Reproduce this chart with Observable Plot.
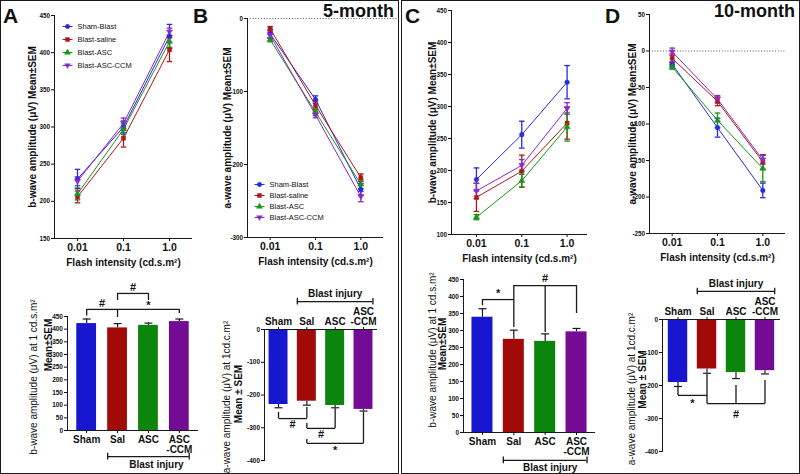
<!DOCTYPE html>
<html><head><meta charset="utf-8">
<script src="https://cdn.jsdelivr.net/npm/d3@7"></script>
<script src="https://cdn.jsdelivr.net/npm/@observablehq/plot@0.6"></script>
<style>
html,body{margin:0;padding:0;background:#fff;}
#fig{position:relative;width:800px;height:474px;overflow:hidden;background:#fff;font-family:"Liberation Sans",Arial,sans-serif;}
.box{position:absolute;top:0;height:474px;box-sizing:border-box;border:1.6px solid #1a1a1a;pointer-events:none;}
.tag{position:absolute;font-weight:bold;line-height:1;color:#111;white-space:nowrap;font-family:"Liberation Sans",Arial,sans-serif;}
</style></head><body>
<div id="fig"></div>
<script>
// ---------- data ----------
const intensities = [0.01, 0.1, 1.0];
const intensityLabels = ["0.01", "0.1", "1.0"];
const seriesNames = ["Sham-Blast", "Blast-saline", "Blast-ASC", "Blast-ASC-CCM"];
const seriesColors = ["#2a2ae0", "#b01818", "#1a961a", "#8a2ac8"];

// A: b-wave, 5-month (mean, SEM) per series x intensity
const bwave5Mean = [[230, 300, 422], [206, 285, 404], [210, 297, 415], [227, 305, 428]];
const bwave5Sem  = [[13, 8, 16], [8, 12, 16], [8, 7, 8], [6, 7, 5]];
// B: a-wave, 5-month
const awave5Mean = [[-21, -111, -234], [-14, -119, -218], [-29, -128, -227], [-23, -132, -244]];
const awave5Sem  = [[6, 5, 8], [3, 6, 5], [3, 5, 6], [4, 4, 7]];
// C: b-wave, 10-month
const bwave10Mean = [[186, 256, 338], [158, 199, 274], [127, 184, 268], [168, 208, 297]];
const bwave10Sem  = [[18, 21, 26], [22, 25, 25], [4, 10, 22], [12, 9, 9]];
// D: a-wave, 10-month
const awave10Mean = [[-18, -105, -191], [-10, -69, -152], [-22, -95, -161], [-1, -66, -149]];
const awave10Sem  = [[3, 13, 10], [6, 6, 10], [3, 10, 18], [5, 5, 6]];

// bar charts at 1 cd.s.m2
const groups = ["Sham", "Sal", "ASC", "ASC-CCM"];
const groupLabels = ["Sham", "Sal", "ASC", "ASC\n-CCM"];
const groupColors = ["#1717cf", "#a20a0a", "#0c850c", "#740b95"];
const bwave5Bar = [422, 405, 415, 430], bwave5BarSem = [18, 17, 9, 10];
const awave5Bar = [-229, -219, -232, -244], awave5BarSem = [10, 12, 7, 5];
const bwave10Bar = [339, 274, 268, 296], bwave10BarSem = [25, 27, 22, 10];
const awave10Bar = [-191, -150, -161, -155], awave10BarSem = [12, 13, 18, 10];

// significance annotations (brackets in data units)
const sigA = {
  links: [{a: "Sham", b: "Sal", y: 478}, {a: "Sal", b: "ASC", y: 541}, {a: "Sal", b: "ASC-CCM", y: 478}],
  legs: [{g: "Sham", y1: 478, y2: 452}, {g: "Sal", y1: 478, y2: 446}, {g: "Sal", y1: 541, y2: 513}, {g: "ASC", y1: 541, y2: 513}, {g: "ASC-CCM", y1: 478, y2: 462}],
  labels: [{g: "Sham", off: 0.5, y: 500, t: "#"}, {g: "Sal", off: 0.5, y: 563, t: "#"}, {g: "ASC", off: 0, y: 494, t: "*"}]
};
const sigB = {
  links: [{a: "Sham", b: "Sal", y: -272}, {a: "Sal", b: "ASC", y: -302}, {a: "Sal", b: "ASC-CCM", y: -348}],
  legs: [{g: "Sham", y1: -272, y2: -253}, {g: "Sal", y1: -272, y2: -238}, {g: "Sal", y1: -302, y2: -287}, {g: "ASC", y1: -302, y2: -242}, {g: "Sal", y1: -348, y2: -336}, {g: "ASC-CCM", y1: -348, y2: -252}],
  labels: [{g: "Sham", off: 0.5, y: -290, t: "#"}, {g: "Sal", off: 0.5, y: -322, t: "#"}, {g: "ASC", off: 0, y: -368, t: "*"}]
};
const sigC = {
  links: [{a: "Sham", b: "Sal", y: 391}, {a: "Sal", b: "ASC-CCM", y: 432}],
  legs: [{g: "Sham", y1: 391, y2: 373}, {g: "Sal", y1: 432, y2: 309}, {g: "ASC", y1: 432, y2: 294}, {g: "ASC-CCM", y1: 432, y2: 350}],
  labels: [{g: "Sham", off: 0.5, y: 410, t: "*"}, {g: "ASC", off: 0, y: 454, t: "#"}]
};
const sigD = {
  links: [{a: "Sham", b: "Sal", y: -230}, {a: "Sal", b: "ASC-CCM", y: -255}],
  legs: [{g: "Sham", y1: -230, y2: -206}, {g: "Sal", y1: -255, y2: -167}, {g: "ASC", y1: -255, y2: -200}, {g: "ASC-CCM", y1: -255, y2: -185}],
  labels: [{g: "Sham", off: 0.5, y: -253, t: "*"}, {g: "ASC", off: 0, y: -287, t: "#"}]
};

const xLabel = "Flash intensity (cd.s.m\u00B2)";

// ---------- helpers ----------
const AX = "#1a1a1a";
const FONT = '"Liberation Sans", Arial, Helvetica, sans-serif';
const fig = document.getElementById("fig");
const mctx = document.createElement("canvas").getContext("2d");
function textLen(s, weight, size) { mctx.font = `${weight} ${size}px "Liberation Sans", Arial, sans-serif`; return mctx.measureText(s).width; }
function place(el, left, top) {
  el.style.position = "absolute"; el.style.left = left + "px"; el.style.top = top + "px";
  fig.appendChild(el);
}
const capSym = {draw(ctx, size) { const r = Math.sqrt(size / Math.PI); ctx.moveTo(-r, 0); ctx.lineTo(r, 0); }};
const triDown = {draw(ctx, size) { const r = Math.sqrt(size / Math.PI) * 1.3; ctx.moveTo(-r, -r * 0.6); ctx.lineTo(r, -r * 0.6); ctx.lineTo(0, r); ctx.closePath(); }};
const seriesSymbols = ["circle", "square", "triangle", triDown];
const styleBase = {fontFamily: FONT, fontWeight: "bold", fontSize: "10px", background: "transparent", overflow: "visible", color: "#111"};
const k = v => () => v;

function linePanel(c) {
  const rows = [];
  seriesNames.forEach((s, si) => intensities.forEach((x, xi) => rows.push({s, si, x, y: c.means[si][xi], e: c.sems[si][xi]})));
  const x0 = 10 ** c.xExp[0], x1 = 10 ** c.xExp[1];
  const marks = [];
  if (c.zeroTo) marks.push(Plot.ruleY([0], {x1: k(x0), x2: k(c.zeroTo), stroke: "#555", strokeWidth: 1, strokeDasharray: "1,1.8"}));
  marks.push(
    Plot.ruleY([c.yDomain[0]], {stroke: AX, strokeWidth: 1}),
    Plot.ruleX([x0], {stroke: AX, strokeWidth: 1}),
    Plot.axisY({ticks: c.yTicks, tickFormat: d => String(d), tickSize: 3, tickPadding: 1.5, fontSize: 6.3, label: null}),
    Plot.axisX({ticks: intensities, tickFormat: d => intensityLabels[intensities.indexOf(d)], tickSize: 3, tickPadding: 2, fontSize: 10.5, label: null}),
    Plot.text([xLabel], {frameAnchor: "bottom", dy: 24, fontSize: 10, lineAnchor: "middle", textAnchor: "middle"}),
    Plot.text([c.yLabel], {frameAnchor: "left", dx: c.yLabelDx, rotate: -90, fontSize: 10, lineAnchor: "middle", textAnchor: "middle"}),
    Plot.line(rows, {x: "x", y: "y", z: "s", stroke: "s", strokeWidth: 1}),
    Plot.ruleX(rows, {x: "x", y1: d => d.y - d.e, y2: d => d.y + d.e, stroke: "s", strokeWidth: 1.3}),
    Plot.dot(rows, {x: "x", y: d => d.y + d.e, symbol: capSym, r: 2.8, fill: "none", stroke: "s", strokeWidth: 1.3}),
    Plot.dot(rows, {x: "x", y: d => d.y - d.e, symbol: capSym, r: 2.8, fill: "none", stroke: "s", strokeWidth: 1.3})
  );
  seriesNames.forEach((s, si) => {
    marks.push(Plot.dot(rows.filter(d => d.si === si), {x: "x", y: "y", symbol: seriesSymbols[si], r: 2.3, fill: seriesColors[si], stroke: seriesColors[si], strokeWidth: 0.5}));
  });
  if (c.legend) seriesNames.forEach((s, si) => {
    const dy = c.legY + si * c.legStep;
    marks.push(
      Plot.dot([s], {frameAnchor: "top-left", dx: c.legX, dy, symbol: capSym, r: 5, fill: "none", stroke: seriesColors[si], strokeWidth: 1}),
      Plot.dot([s], {frameAnchor: "top-left", dx: c.legX, dy, symbol: seriesSymbols[si], r: 2.2, fill: seriesColors[si], stroke: seriesColors[si], strokeWidth: 0.5}),
      Plot.text([s], {frameAnchor: "top-left", dx: c.legX + 10, dy, text: d => d, textAnchor: "start", lineAnchor: "middle", fontSize: 7.5, fontWeight: "normal"})
    );
  });
  const svg = Plot.plot({
    width: c.w, height: c.h, marginLeft: c.ml, marginRight: c.mr, marginTop: c.mt, marginBottom: c.mb,
    x: {type: "log", domain: [x0, x1]},
    y: {domain: c.yDomain},
    color: {domain: seriesNames, range: seriesColors},
    style: styleBase,
    marks
  });
  place(svg, c.left, c.top);
}

function barPanel(c) {
  const rows = groups.map((g, i) => ({g, v: c.vals[i], e: c.sems[i], tip: c.vals[i] + Math.sign(c.vals[i]) * c.sems[i]}));
  const n = groups.length;
  const step = (c.w - c.ml - c.mr) / (n - c.pi + 2 * c.po);
  const bw = step * (1 - c.pi);
  const sig = c.sig, bl = c.blast;
  // rotated y labels anchored explicitly at their lower end (text runs upward)
  const l1 = textLen(c.yl1, "normal", 10), l2 = textLen(c.yl2, "bold", 10);
  const marks = [
    Plot.barY(rows, {x: "g", y: "v", fill: "g"}),
    Plot.ruleX(rows, {x: "g", y1: "v", y2: "tip", stroke: AX, strokeWidth: 1.2}),
    Plot.dot(rows, {x: "g", y: "tip", symbol: capSym, r: 4, fill: "none", stroke: AX, strokeWidth: 1.2}),
    Plot.ruleY([0], {stroke: AX, strokeWidth: 1}),
    Plot.frame({anchor: "left", stroke: AX, strokeWidth: 1}),
    Plot.axisY({ticks: c.yTicks, tickFormat: d => String(d), tickSize: 3, tickPadding: 1.5, fontSize: 6.5, label: null}),
    Plot.axisX({anchor: c.axisTop ? "top" : "bottom", tickFormat: d => groupLabels[groups.indexOf(d)], tickSize: 3, tickPadding: 2, fontSize: 10, label: null}),
    Plot.text([c.yl1], {frameAnchor: "left", dx: c.yl1dx, dy: c.yl1dy + l1 / 2, rotate: -90, fontSize: 10, fontWeight: "normal", textAnchor: "start", lineAnchor: "middle"}),
    Plot.text([c.yl2], {frameAnchor: "left", dx: c.yl2dx, dy: c.yl2dy + l2 / 2, rotate: -90, fontSize: 10, fontWeight: "bold", textAnchor: "start", lineAnchor: "middle"}),
    Plot.link(sig.links, {x1: "a", x2: "b", y1: "y", y2: "y", stroke: AX, strokeWidth: 1.3}),
    Plot.ruleX(sig.legs, {x: "g", y1: "y1", y2: "y2", stroke: AX, strokeWidth: 1.3}),
    ...sig.labels.map(l => Plot.text([l], {x: "g", y: "y", text: "t", dx: l.off * step, fontSize: 11})),
    Plot.ruleY([bl.y], {x1: k("Sal"), x2: k("ASC-CCM"), stroke: AX, strokeWidth: 1.3}),
    Plot.ruleX(["Sal"], {x: d => d, y1: k(bl.y - bl.t), y2: k(bl.y + bl.t), dx: -bw / 2, stroke: AX, strokeWidth: 1.3}),
    Plot.ruleX(["ASC-CCM"], {x: d => d, y1: k(bl.y - bl.t), y2: k(bl.y + bl.t), dx: bw / 2, stroke: AX, strokeWidth: 1.3}),
    Plot.text(["Blast injury"], {x: k("ASC"), y: k(bl.ty), dx: bl.dx || 0, fontSize: 10})
  ];
  const svg = Plot.plot({
    width: c.w, height: c.h, marginLeft: c.ml, marginRight: c.mr, marginTop: c.mt, marginBottom: c.mb,
    x: {type: "band", domain: groups, paddingInner: c.pi, paddingOuter: c.po, round: false},
    y: {domain: c.yDomain},
    color: {domain: groups, range: groupColors},
    style: styleBase,
    marks
  });
  place(svg, c.left, c.top);
}

// ---------- line panels ----------
linePanel({left: 0, top: 0, w: 200, h: 270, ml: 54, mr: 8, mt: 15, mb: 32,
  means: bwave5Mean, sems: bwave5Sem, yDomain: [150, 450], yTicks: [150, 200, 250, 300, 350, 400, 450],
  xExp: [-2.5, 0.5], yLabel: "b-wave amplitude (\u03BCV) Mean\u00B1SEM", yLabelDx: -22,
  legend: true, legX: 13, legY: 11, legStep: 13});
linePanel({left: 200, top: 0, w: 198, h: 270, ml: 47, mr: 15, mt: 18, mb: 33,
  means: awave5Mean, sems: awave5Sem, yDomain: [-300, 0], yTicks: [-300, -200, -100, 0],
  xExp: [-2.5, 0.5], zeroTo: 10 ** 0.8, yLabel: "a-wave amplitude (\u03BCV) Mean\u00B1SEM", yLabelDx: -20,
  legend: true, legX: 12, legY: 166, legStep: 11});
linePanel({left: 400, top: 0, w: 200, h: 270, ml: 51, mr: 13, mt: 10, mb: 36,
  means: bwave10Mean, sems: bwave10Sem, yDomain: [100, 450], yTicks: [100, 150, 200, 250, 300, 350, 400, 450],
  xExp: [-2.55, 0.45], yLabel: "b-wave amplitude (\u03BCV) Mean\u00B1SEM", yLabelDx: -19, legend: false});
linePanel({left: 600, top: 0, w: 200, h: 270, ml: 49, mr: 15, mt: 14, mb: 37,
  means: awave10Mean, sems: awave10Sem, yDomain: [-250, 50], yTicks: [-250, -200, -150, -100, -50, 0, 50],
  xExp: [-2.5, 0.5], zeroTo: 10 ** 0.5, yLabel: "a-wave amplitude (\u03BCV) Mean\u00B1SEM", yLabelDx: -17, legend: false});

// ---------- bar panels ----------
barPanel({left: 0, top: 270, w: 200, h: 204, ml: 67, mr: 2, mt: 46, mb: 44, po: 0.3, pi: 0.36, axisTop: false,
  vals: bwave5Bar, sems: bwave5BarSem, yDomain: [0, 450], yTicks: d3.range(0, 451, 50),
  yl1: "b-wave amplitude (\u03BCV) at 1 cd.s.m\u00B2", yl2: "Mean\u00B1SEM", yl1dx: -34, yl1dy: 3.5, yl2dx: -19, yl2dy: -28.5,
  sig: sigA, blast: {y: -103, t: 13, ty: -134, dx: 8}});
barPanel({left: 200, top: 270, w: 198, h: 204, ml: 64, mr: 21, mt: 59, mb: 14, po: 0.16, pi: 0.33, axisTop: true,
  vals: awave5Bar, sems: awave5BarSem, yDomain: [-400, 0], yTicks: [-400, -300, -200, -100, 0],
  yl1: "a-wave amplitude (\u03BCV) at 1cd.c.m\u00B2", yl2: "Mean \u00B1 SEM", yl1dx: -38, yl1dy: 2, yl2dx: -26, yl2dy: -1,
  sig: sigB, blast: {y: 85, t: 10, ty: 110}});
barPanel({left: 400, top: 270, w: 200, h: 204, ml: 63, mr: 5, mt: 9, mb: 42, po: 0.27, pi: 0.33, axisTop: false,
  vals: bwave10Bar, sems: bwave10BarSem, yDomain: [0, 450], yTicks: d3.range(0, 451, 50),
  yl1: "b-wave amplitude (\u03BCV) at 1 cd.s.m\u00B2", yl2: "Mean\u00B1SEM", yl1dx: -31, yl1dy: -6, yl2dx: -21, yl2dy: -12,
  sig: sigC, blast: {y: -82, t: 10, ty: -103, dx: 5}});
barPanel({left: 600, top: 270, w: 200, h: 204, ml: 62, mr: 20, mt: 49, mb: 23, po: 0.2, pi: 0.33, axisTop: true,
  vals: awave10Bar, sems: awave10BarSem, yDomain: [-400, 0], yTicks: [-400, -300, -200, -100, 0],
  yl1: "a-wave amplitude (\u03BCV) at 1cd.c.m\u00B2", yl2: "Mean \u00B1 SEM", yl1dx: -31, yl1dy: 3.5, yl2dx: -20, yl2dy: -6,
  sig: sigD, blast: {y: 85, t: 10, ty: 109}});

// ---------- panel tags & boxes ----------
function tag(text, left, top, size, right) {
  const d = document.createElement("div");
  d.className = "tag"; d.textContent = text; d.style.fontSize = size + "px"; d.style.top = top + "px";
  if (right !== undefined) d.style.right = right + "px"; else d.style.left = left + "px";
  fig.appendChild(d);
}
tag("A", 3, 5, 21); tag("B", 193, 5, 21); tag("C", 405, 5, 21); tag("D", 605, 5, 21);
tag("5-month", 0, 2, 18, 406); tag("10-month", 0, 2, 18, 5);
for (const [l, w] of [[0, 399], [401, 399]]) {
  const b = document.createElement("div"); b.className = "box"; b.style.left = l + "px"; b.style.width = w + "px"; fig.appendChild(b);
}
</script></body></html>
